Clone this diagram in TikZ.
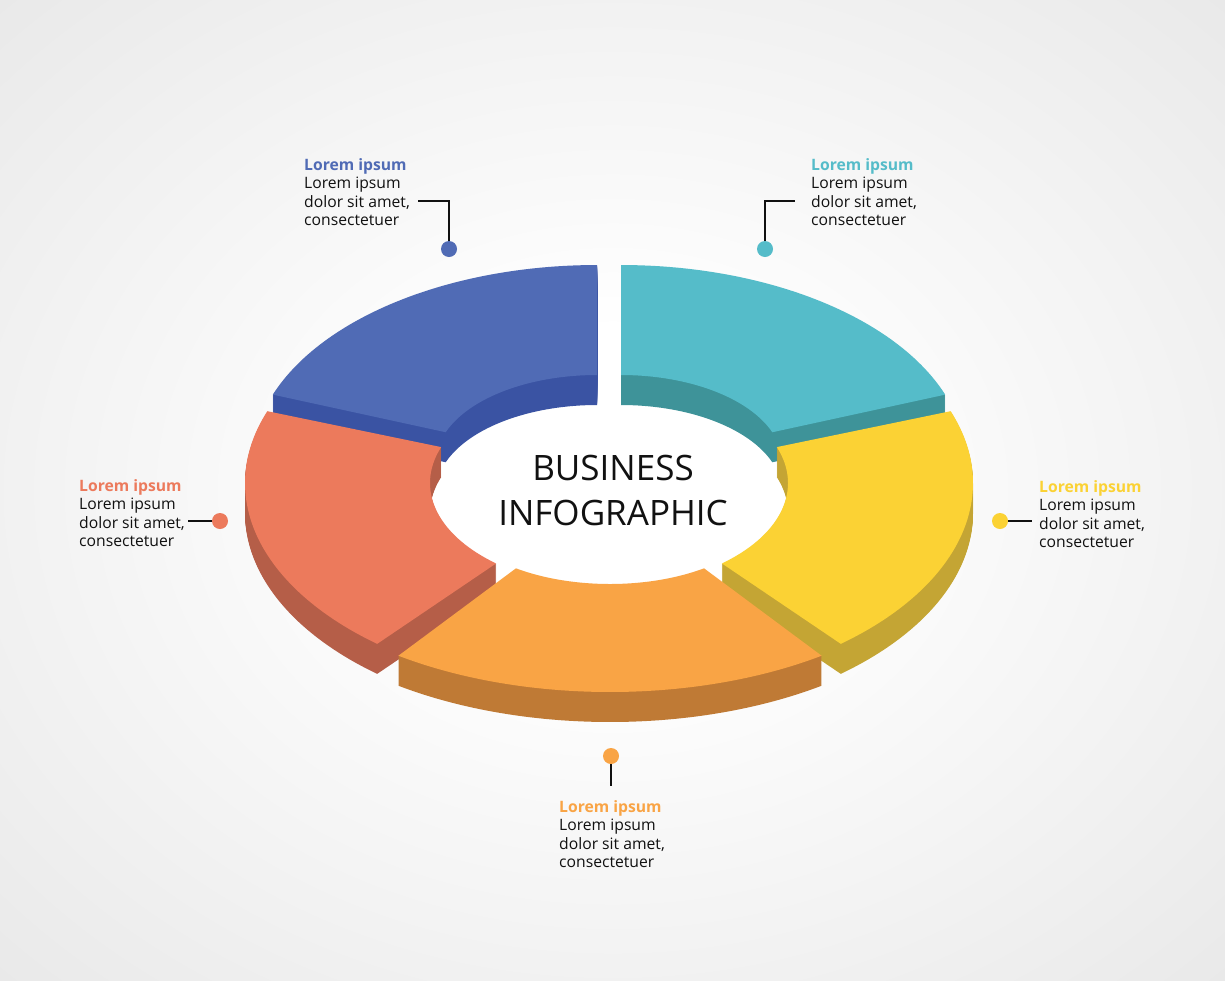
\documentclass[tikz,border=0pt]{standalone}
\usepackage{fontspec}
\setmainfont{Open Sans}

\definecolor{bluetop}{HTML}{506BB5}
\definecolor{blueside}{HTML}{3A53A3}
\definecolor{tealtop}{HTML}{55BCC9}
\definecolor{tealside}{HTML}{3E9399}
\definecolor{redtop}{HTML}{EC7A5C}
\definecolor{redside}{HTML}{B55E48}
\definecolor{yellowtop}{HTML}{FBD234}
\definecolor{yellowside}{HTML}{C4A534}
\definecolor{orangetop}{HTML}{F9A445}
\definecolor{orangeside}{HTML}{BF7A35}
\definecolor{bgedge}{HTML}{E7E7E7}
\definecolor{bgcorner}{HTML}{DFDFDF}
\definecolor{ink}{HTML}{111111}

\pgfdeclareradialshading{glow}{\pgfpoint{0bp}{0bp}}{color(0bp)=(white); color(8bp)=(white); color(38bp)=(bgedge); color(72bp)=(bgcorner)}

% one slab of the ring: cx, cy, rx, ry, inner rx, inner ry, from, to, colour name
\newcommand{\ringpart}[9]{%
  \foreach \d in {30,29,...,1}
    \fill[#9side] plot[domain=#7:#8, samples=60] ({#1+#3*cos(\x)}, {#2+\d-#4*sin(\x)})
      -- plot[domain=#8:#7, samples=60] ({#1+#5*cos(\x)}, {#2+\d-#6*sin(\x)}) -- cycle;
  \fill[#9top] plot[domain=#7:#8, samples=60] ({#1+#3*cos(\x)}, {#2-#4*sin(\x)})
    -- plot[domain=#8:#7, samples=60] ({#1+#5*cos(\x)}, {#2-#6*sin(\x)}) -- cycle;
}

\newcommand{\lorem}[1]{\textcolor{#1}{\bfseries Lorem ipsum}\\Lorem ipsum\\dolor sit amet,\\consectetuer}

\begin{document}
\begin{tikzpicture}[
x=1pt, y=-1pt,
title/.style={font=\fontsize{35}{45}\selectfont, align=center, text=ink, inner sep=0},
note/.style={anchor=north west, align=left, inner sep=0, text=ink, font=\fontsize{15.7}{18.6}\selectfont},
dot/.style={circle, fill=#1, minimum size=16, inner sep=0},
link/.style={draw=ink, line width=1.5}
]
\shade[shading=glow] (0,0) rectangle (1225,980);

% ring, back to front
\ringpart{597}{462}{345}{197}{161}{87}{90}{160}{blue}
\ringpart{621}{462}{345}{197}{161}{87}{20}{90}{teal}
\ringpart{615}{483}{370}{210}{185}{105}{160}{230}{red}
\ringpart{603}{483}{370}{210}{185}{105}{-50}{20}{yellow}
\ringpart{610}{502}{360}{190}{160}{82}{234}{306}{orange}

\node[title] (title) at (613,490) {BUSINESS\\INFOGRAPHIC};

% notes
\node[note] (lab1) at (304,158) {\lorem{bluetop}};
\node[note] (lab2) at (811,158) {\lorem{tealtop}};
\node[note] (lab3) at (79,479) {\lorem{redtop}};
\node[note] (lab4) at (1039,480) {\lorem{yellowtop}};
\node[note] (lab5) at (559,800) {\lorem{orangetop}};

\node[dot=bluetop] (dot1) at (449,249) {};
\node[dot=tealtop] (dot2) at (765,249) {};
\node[dot=redtop] (dot3) at (220,521) {};
\node[dot=yellowtop] (dot4) at (1000,521) {};
\node[dot=orangetop] (dot5) at (611,756) {};

\coordinate (end1) at (418,201);
\coordinate (end2) at (795,201);
\coordinate (end3) at (188,521);
\coordinate (end4) at (1032,521);
\coordinate (end5) at (611,786);

\draw[link] (dot1) |- (end1);
\draw[link] (dot2) |- (end2);
\draw[link] (dot3) -- (end3);
\draw[link] (dot4) -- (end4);
\draw[link] (dot5) -- (end5);
\end{tikzpicture}
\end{document}
